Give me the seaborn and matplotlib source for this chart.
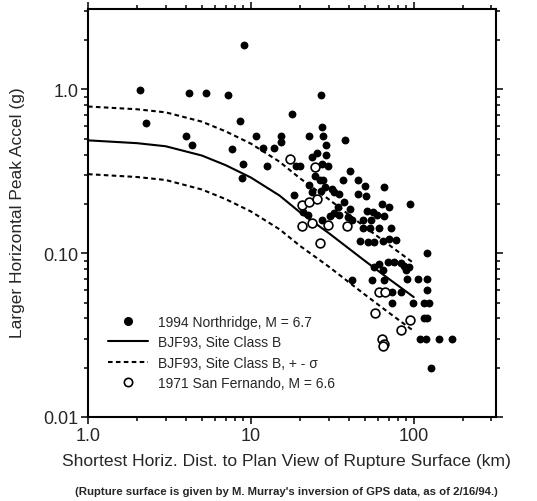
import matplotlib
matplotlib.use("Agg")
import matplotlib.pyplot as plt
import seaborn as sns
import pandas as pd
from matplotlib.lines import Line2D
from matplotlib.ticker import FixedLocator, LogLocator, NullFormatter, FixedFormatter

# ---- data ----
nr_dist = [2.09, 2.28, 4.18, 5.32, 7.27, 8.61, 4.01, 4.37, 7.69, 10.8, 11.9, 8.99, 12.6, 8.87, 9.12,
           26.8, 18.0, 27.5, 15.4, 15.4, 22.9, 27.9, 38.1, 13.9, 29.1, 25.3, 23.6, 29.1, 19.0, 19.9,
           29.6, 27.2, 40.9, 36.6, 24.9, 26.4, 27.9, 45.2, 22.9, 49.9, 65.4, 28.7, 31.7, 32.6, 35.0,
           18.5, 45.2, 50.7, 23.9, 26.8, 63.5, 70.2, 94.5, 34.5, 37.1, 40.9, 51.4, 55.9, 59.2, 65.4,
           21.0, 22.3, 27.5, 30.4, 35.0, 32.2, 39.3, 41.5, 48.5, 54.4, 48.5, 53.6, 60.9, 72.2, 46.5,
           52.1, 56.7, 64.5, 70.2, 77.5, 120, 56.7, 60.9, 69.2, 75.3, 83.2, 86.8, 93.2, 64.5, 89.3,
           41.5, 55.2, 65.4, 90.6, 106, 120, 120, 73.2, 83.2, 73.2, 98.6, 115, 124, 115, 120,
           109, 119, 143, 171, 127]
nr_pga = [0.99, 0.62, 0.95, 0.95, 0.92, 0.64, 0.52, 0.46, 0.43, 0.52, 0.44, 0.35, 0.34, 0.29, 1.88,
          0.93, 0.71, 0.59, 0.52, 0.48, 0.52, 0.52, 0.49, 0.44, 0.46, 0.41, 0.385, 0.40, 0.34, 0.34,
          0.34, 0.35, 0.32, 0.28, 0.295, 0.28, 0.28, 0.28, 0.26, 0.256, 0.253, 0.253, 0.246, 0.235, 0.229,
          0.226, 0.229, 0.223, 0.235, 0.239, 0.199, 0.191, 0.199, 0.191, 0.205, 0.186, 0.180, 0.178, 0.171, 0.168,
          0.178, 0.171, 0.159, 0.168, 0.171, 0.175, 0.166, 0.159, 0.159, 0.159, 0.142, 0.142, 0.142, 0.142, 0.118,
          0.117, 0.117, 0.118, 0.122, 0.120, 0.100, 0.082, 0.086, 0.088, 0.088, 0.087, 0.083, 0.082, 0.079, 0.079,
          0.069, 0.069, 0.069, 0.070, 0.070, 0.070, 0.0595, 0.058, 0.058, 0.050, 0.050, 0.050, 0.050, 0.040, 0.040,
          0.030, 0.030, 0.030, 0.030, 0.020]

sf_dist = [17.5, 24.9, 20.5, 22.6, 25.3, 20.7, 23.9, 29.6, 38.7, 26.4,
           60.9, 66.3, 57.5, 94.5, 83.2, 63.5, 65.4, 64.5]
sf_pga = [0.374, 0.334, 0.196, 0.205, 0.213, 0.146, 0.152, 0.148, 0.146, 0.115,
          0.058, 0.058, 0.043, 0.039, 0.034, 0.030, 0.028, 0.027]

curve_dist = [1, 2, 3, 5, 7, 10, 15, 20, 30, 50, 70, 100]
bjf_median = [0.489, 0.47, 0.45, 0.395, 0.345, 0.29, 0.225, 0.178, 0.133, 0.090, 0.070, 0.054]
bjf_plus = [0.787, 0.757, 0.725, 0.636, 0.555, 0.467, 0.362, 0.287, 0.214, 0.145, 0.113, 0.087]
bjf_minus = [0.304, 0.292, 0.280, 0.245, 0.214, 0.180, 0.140, 0.111, 0.083, 0.056, 0.0435, 0.0335]

x_ticks = [1, 10, 100]
x_tick_labels = ["1.0", "10", "100"]
y_ticks = [0.01, 0.1, 1.0]
y_tick_labels = ["0.01", "0.10", "1.0"]

labels = ["1994 Northridge, M = 6.7", "BJF93, Site Class B",
          "BJF93, Site Class B, + - \u03c3", "1971 San Fernando, M = 6.6"]

# ---- styling ----
sns.set_style("ticks")
plt.rcParams['font.family'] = ['Liberation Sans', 'DejaVu Sans']

fig = plt.figure(figsize=(5.37, 5.02), dpi=100)
ax = fig.add_axes([88/537, 84/502, 408/537, 408/502])
ax.set_xscale("log")
ax.set_yscale("log")

dash = (0, (2.2, 1.6))
curves = pd.DataFrame({"dist": curve_dist, "med": bjf_median, "plus": bjf_plus, "minus": bjf_minus})
sns.lineplot(data=curves, x="dist", y="med", color="black", lw=1.5, ax=ax)
sns.lineplot(data=curves, x="dist", y="plus", color="black", lw=1.5, linestyle=dash, ax=ax)
sns.lineplot(data=curves, x="dist", y="minus", color="black", lw=1.5, linestyle=dash, ax=ax)

sns.scatterplot(x=nr_dist, y=nr_pga, color="black", s=32, linewidth=0, ax=ax, zorder=3)
sns.scatterplot(x=sf_dist, y=sf_pga, color="white", edgecolor="black", s=40, linewidth=1.2, ax=ax, zorder=4)

ax.set_xlim(1, 320)
ax.set_ylim(0.01, 3.1)

ax.xaxis.set_major_locator(FixedLocator(x_ticks))
ax.xaxis.set_major_formatter(FixedFormatter(x_tick_labels))
ax.yaxis.set_major_locator(FixedLocator(y_ticks))
ax.yaxis.set_major_formatter(FixedFormatter(y_tick_labels))
ax.xaxis.set_minor_locator(LogLocator(base=10, subs=range(2, 10)))
ax.yaxis.set_minor_locator(LogLocator(base=10, subs=range(2, 10)))
ax.xaxis.set_minor_formatter(NullFormatter())
ax.yaxis.set_minor_formatter(NullFormatter())

ax.tick_params(which="both", direction="out", top=True, right=True, color="black", width=1.1)
ax.tick_params(which="major", length=5, labelsize=13)
ax.tick_params(which="minor", length=3)
ax.tick_params(axis="x", which="major", pad=2)
ax.tick_params(axis="y", which="major", pad=2)
for sp in ax.spines.values():
    sp.set_linewidth(1.5)
    sp.set_color("black")
ax.set_xlabel("")
ax.set_ylabel("")

fig.text(18/537, 1 - 213/502, "Larger Horizontal Peak Accel (g)", rotation=90,
         ha="center", va="center", fontsize=12.5)
fig.text(287/537, 1 - 462/502, "Shortest Horiz. Dist. to Plan View of Rupture Surface (km)",
         ha="center", va="center", fontsize=12.6)
fig.text(286/537, 1 - 492/502,
         "(Rupture surface is given by M. Murray's inversion of GPS data, as of 2/16/94.)",
         ha="center", va="center", fontsize=8.2, fontweight="bold")

handles = [
    Line2D([], [], marker="o", color="black", linestyle="none", markersize=5.5),
    Line2D([], [], color="black", lw=1.5),
    Line2D([], [], color="black", lw=1.5, linestyle=dash),
    Line2D([], [], marker="o", markerfacecolor="white", markeredgecolor="black",
           markeredgewidth=1.2, linestyle="none", markersize=6),
]
ax.legend(handles, labels, loc="upper left", bbox_to_anchor=((108-88)/408, (418-316)/408),
          frameon=False, fontsize=10, handlelength=2.9, handletextpad=0.72,
          labelspacing=0.45, borderpad=0, borderaxespad=0)

fig.savefig("out.png", dpi=100)
